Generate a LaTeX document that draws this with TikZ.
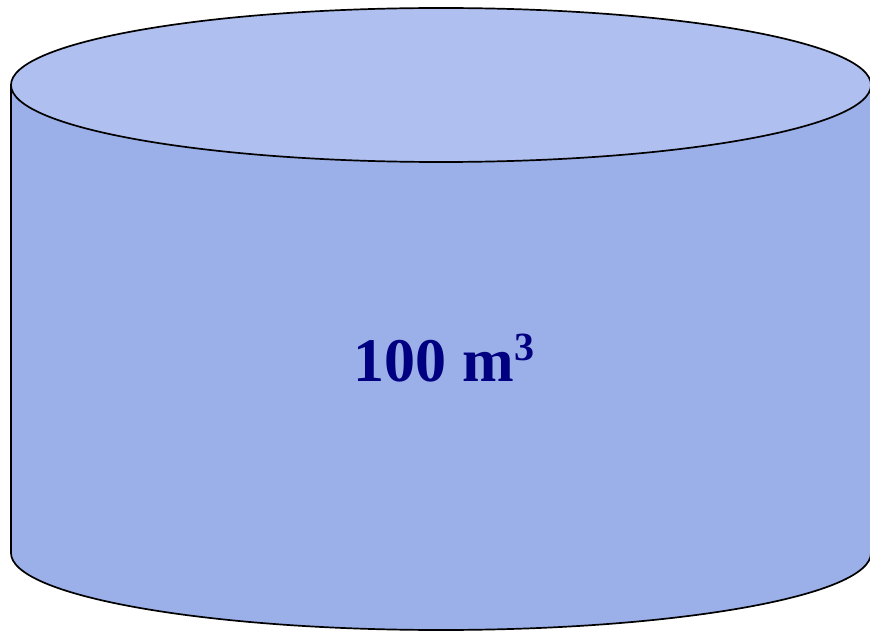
\documentclass[tikz,border=0pt]{standalone}
\usepackage{fontspec}
\setmainfont{Liberation Serif}
\definecolor{topc}{RGB}{175,192,240}
\definecolor{sidec}{RGB}{155,176,232}
\definecolor{navytext}{RGB}{0,0,128}
\begin{document}
\begin{tikzpicture}[x=1pt,y=-1pt,
  outline/.style={draw=black,line width=1.7pt},
  label/.style={text=navytext,font=\fontsize{62}{64}\selectfont\bfseries,inner sep=0pt,anchor=base}]
\useasboundingbox (0,0) rectangle (870,631);
\begin{scope}
\clip (0,0) rectangle (870,631);
% body
\path[fill=sidec] (11,85) -- (11,553) arc[start angle=180,end angle=360,x radius=430,y radius=-77] -- (871,85) -- cycle;
\draw[outline] (11,85) -- (11,553) arc[start angle=180,end angle=360,x radius=430,y radius=-77] -- (871,85);
% top
\draw[outline,fill=topc] (441,85) ellipse[x radius=430,y radius=77];
\end{scope}
\node[label] (vol) at (444,381) {100 m\raisebox{21pt}{\fontsize{40}{42}\selectfont 3}};
\end{tikzpicture}
\end{document}
